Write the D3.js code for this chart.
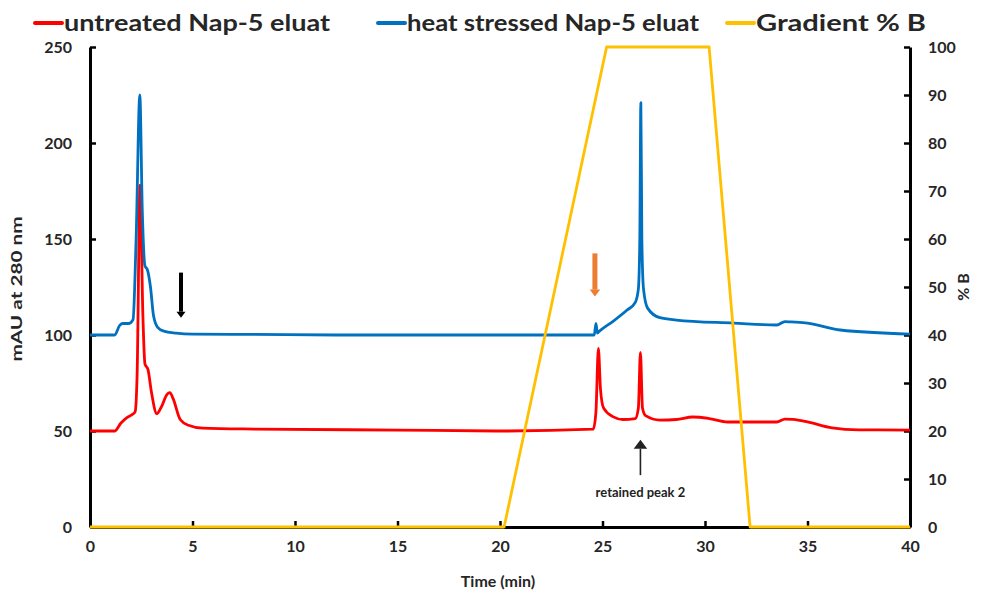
<!DOCTYPE html>
<html>
<head>
<meta charset="utf-8">
<script src="https://cdn.jsdelivr.net/npm/d3@7"></script>
<style>
  html, body { margin: 0; padding: 0; background: #fff; }
  svg text { font-family: Lato, "Open Sans", sans-serif; }
</style>
</head>
<body>
<svg id="chart" width="990" height="593"></svg>
<script>
// ---------- data ----------
const xTicks = [0, 5, 10, 15, 20, 25, 30, 35, 40];
const leftTicks = [0, 50, 100, 150, 200, 250];
const rightTicks = [0, 10, 20, 30, 40, 50, 60, 70, 80, 90, 100];

const seriesNames = ["untreated Nap-5 eluat", "heat stressed Nap-5 eluat", "Gradient % B"];
const seriesColors = ["#FF0000", "#0070C0", "#FFC000"];

// untreated Nap-5 eluat (mAU at 280 nm)
const untreatedTime = [0, 1.2, 1.5, 1.8, 2.05, 2.2, 2.3, 2.44, 2.58, 2.68, 2.83, 3.0, 3.26, 3.5, 3.75, 3.9, 4.05, 4.4, 4.8, 5.5, 8, 15, 20, 24.55, 24.68, 24.8, 24.9, 25.05, 25.5, 26.0, 26.6, 26.75, 26.85, 26.95, 27.1, 27.8, 28.6, 29.4, 30.2, 31.1, 33.5, 33.9, 34.3, 35, 36.2, 37.5, 40];
const untreatedMAU  = [50, 50, 54, 57, 58.5, 60, 80, 178, 110, 85, 82, 70, 59, 63, 69, 70, 67, 56, 53, 51.5, 51, 50.5, 50, 51, 60, 93, 72, 62, 57.5, 56, 56.5, 62, 91, 62, 58, 55.7, 56, 57.3, 56.5, 54.7, 54.7, 56.2, 56, 54.7, 51.6, 50.6, 50.5];

// heat stressed Nap-5 eluat (mAU at 280 nm)
const stressedTime = [0, 1.2, 1.45, 1.6, 1.9, 2.1, 2.25, 2.43, 2.55, 2.68, 2.8, 2.95, 3.1, 3.3, 3.6, 4.2, 5, 8, 12, 20, 24.6, 24.68, 24.75, 24.85, 25.5, 26.2, 26.6, 26.75, 26.82, 26.87, 26.92, 27.0, 27.2, 27.8, 28.6, 31.4, 33.5, 33.9, 34.2, 35, 36.6, 40];
const stressedMAU  = [100, 100, 105, 106, 106, 108, 150, 225, 165, 136, 134, 125, 110, 104, 102, 101, 100.5, 100.3, 100, 100, 100, 106, 101, 102, 107, 113, 117, 124, 150, 221, 150, 124, 114, 109, 107.8, 106.2, 105.2, 107, 106.8, 106.2, 102.6, 100.5];

// Gradient % B
const gradientTime = [0, 20.2, 25.2, 30.2, 32.2, 40];
const gradientB    = [0, 0, 100, 100, 0, 0];

// annotations
const arrowTimes = [4.44, 24.63, 26.85];

// ---------- layout ----------
const svg = d3.select("#chart");
const L = 90, R = 910, T = 47, B = 527;

const x = d3.scaleLinear().domain([0, 40]).range([L, R]);
const yL = d3.scaleLinear().domain([0, 250]).range([B, T]);
const yR = d3.scaleLinear().domain([0, 100]).range([B, T]);

const tickFont = "bold 16px Lato, sans-serif";

function styleAxis(g) {
  g.select(".domain").attr("stroke", "#000").attr("stroke-width", 3);
  g.selectAll(".tick line").attr("stroke", "#000").attr("stroke-width", 2.5);
  g.selectAll(".tick text").attr("fill", "#262626").style("font", tickFont);
}

svg.append("g").attr("transform", `translate(0,${B})`)
  .call(d3.axisBottom(x).tickValues(xTicks).tickSizeInner(-6).tickSizeOuter(0).tickPadding(14))
  .call(styleAxis);

svg.append("g").attr("transform", `translate(${L},0)`)
  .call(d3.axisLeft(yL).tickValues(leftTicks).tickSizeInner(-6).tickSizeOuter(0).tickPadding(18))
  .call(styleAxis);

svg.append("g").attr("transform", `translate(${R},0)`)
  .call(d3.axisRight(yR).tickValues(rightTicks).tickSizeInner(-6).tickSizeOuter(0).tickPadding(18))
  .call(styleAxis);

// axis titles
svg.append("text").attr("transform", `translate(22,${(T + B) / 2 + 2}) rotate(-90)`)
  .attr("text-anchor", "middle").attr("fill", "#262626")
  .attr("textLength", 145).attr("lengthAdjust", "spacingAndGlyphs")
  .style("font", "bold 15px Lato, sans-serif").text("mAU at 280 nm");
svg.append("text").attr("transform", `translate(969,${(T + B) / 2}) rotate(-90)`)
  .attr("text-anchor", "middle").attr("fill", "#262626")
  .style("font", "bold 16px Lato, sans-serif").text("% B");
svg.append("text").attr("x", (L + R) / 2 - 2).attr("y", 587)
  .attr("text-anchor", "middle").attr("fill", "#262626")
  .style("font", "bold 16px Lato, sans-serif").text("Time (min)");

// ---------- lines ----------
const lineL = d3.line().x(d => x(d[0])).y(d => yL(d[1])).curve(d3.curveMonotoneX);
const lineR = d3.line().x(d => x(d[0])).y(d => yR(d[1]));

const untreated = untreatedTime.map((t, i) => [t, untreatedMAU[i]]);
const stressed = stressedTime.map((t, i) => [t, stressedMAU[i]]);
const gradient = gradientTime.map((t, i) => [t, gradientB[i]]);

svg.append("path").datum(untreated).attr("d", lineL)
  .attr("fill", "none").attr("stroke", seriesColors[0]).attr("stroke-width", 2.8).attr("stroke-linejoin", "round");
svg.append("path").datum(stressed).attr("d", lineL)
  .attr("fill", "none").attr("stroke", seriesColors[1]).attr("stroke-width", 2.8).attr("stroke-linejoin", "round");
svg.append("path").datum(gradient).attr("d", lineR)
  .attr("fill", "none").attr("stroke", seriesColors[2]).attr("stroke-width", 2.8).attr("stroke-linejoin", "round");

// ---------- arrows ----------
function arrow(t, v0, v1, color, w, head) {
  const x0 = x(t), ya = yL(v0), yb = yL(v1);
  const dir = yb > ya ? 1 : -1;
  svg.append("line").attr("x1", x0).attr("x2", x0).attr("y1", ya).attr("y2", yb - dir * head)
    .attr("stroke", color).attr("stroke-width", w);
  svg.append("path")
    .attr("d", `M${x0 - head * 0.75},${yb - dir * head} L${x0 + head * 0.75},${yb - dir * head} L${x0},${yb} Z`)
    .attr("fill", color);
}
arrow(arrowTimes[0], 132.5, 109, "#000", 4, 6);
arrow(arrowTimes[1], 142.5, 120, "#ED7D31", 5, 7);
arrow(arrowTimes[2], 27, 45.5, "#222", 1.6, 9);

svg.append("text").attr("x", x(arrowTimes[2])).attr("y", yL(15.5))
  .attr("text-anchor", "middle").attr("fill", "#222")
  .style("font", "bold 13px Lato, sans-serif").text("retained peak 2");

// ---------- legend ----------
const legendX = [35, 378, 727];
const legendW = [266, 292, 170];
const leg = svg.append("g");
seriesNames.forEach((name, i) => {
  leg.append("line").attr("x1", legendX[i]).attr("x2", legendX[i] + 27)
    .attr("y1", 23).attr("y2", 23)
    .attr("stroke", seriesColors[i]).attr("stroke-width", 4).attr("stroke-linecap", "round");
  leg.append("text").attr("x", legendX[i] + 29).attr("y", 31)
    .attr("textLength", legendW[i]).attr("lengthAdjust", "spacingAndGlyphs")
    .attr("fill", "#262626").style("font", "bold 23px Lato, sans-serif").text(name);
});
</script>
</body>
</html>
